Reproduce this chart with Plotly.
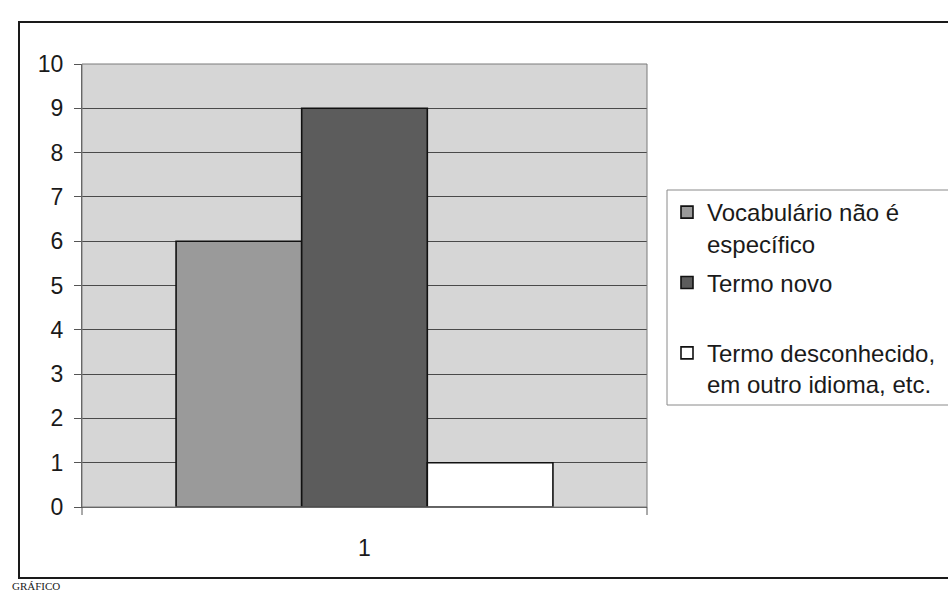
import plotly.graph_objects as go

# Data
categories = ["1"]
series_names = [
    "Vocabulário não é<br>específico",
    "Termo novo<br> ",
    "Termo desconhecido,<br>em outro idioma, etc.",
]
series_values = [[6], [9], [1]]
series_colors = ["#9a9a9a", "#5c5c5c", "#ffffff"]
y_ticks = list(range(0, 11))

W, H = 948, 596
L, R, T, B = 82, 647, 64, 507  # plot area in pixels


def px(x):
    return (x - L) / (R - L)


def py(y):
    return (B - y) / (B - T)


fig = go.Figure()
for i, (name, vals, col) in enumerate(zip(series_names, series_values, series_colors)):
    fig.add_trace(go.Bar(
        x=categories, y=vals, name=name, legendgroup=f"g{i}",
        marker=dict(color=col, line=dict(color="#111111", width=1.6)),
    ))

font_family = "Liberation Sans, Arial, sans-serif"

fig.update_layout(
    width=W, height=H,
    margin=dict(l=L, r=W - R, t=T, b=H - B, autoexpand=False),
    paper_bgcolor="white",
    plot_bgcolor="#d6d6d6",
    barmode="group",
    bargap=0.333,
    bargroupgap=0,
    font=dict(family=font_family, size=23, color="#1a1a1a"),
    showlegend=True,
    legend=dict(
        xref="container", yref="container",
        x=667 / W, y=1 - 190 / H, xanchor="left", yanchor="top",
        bgcolor="rgba(0,0,0,0)", borderwidth=0,
        font=dict(family=font_family, size=24, color="#1a1a1a"),
        valign="top", tracegroupgap=5,
        traceorder="grouped",
    ),
    xaxis=dict(
        type="category", range=[-0.5, 0.5],
        showgrid=False, showline=True, linecolor="#555555", linewidth=1,
        ticks="", tickfont=dict(size=23), ticklabelstandoff=20,
    ),
    yaxis=dict(
        range=[0, 10], tickvals=y_ticks, ticktext=[str(v) for v in y_ticks],
        showgrid=True, gridcolor="#4a4a4a", gridwidth=1,
        showline=True, linecolor="#555555", linewidth=1,
        ticks="outside", ticklen=7, tickcolor="#555555",
        tickfont=dict(size=23), ticklabelstandoff=6,
        zeroline=False,
    ),
    shapes=[
        # plot area border
        dict(type="rect", xref="paper", yref="paper", x0=0, y0=0, x1=1, y1=1,
             line=dict(color="#7a7a7a", width=1), layer="above"),
        # category boundary tick marks below the x axis
        dict(type="line", xref="paper", yref="paper", x0=0, x1=0,
             y0=0, y1=py(515), line=dict(color="#555555", width=1)),
        dict(type="line", xref="paper", yref="paper", x0=1, x1=1,
             y0=0, y1=py(515), line=dict(color="#555555", width=1)),
        # chart frame
        dict(type="rect", xref="paper", yref="paper",
             x0=px(19), x1=px(975), y0=py(578), y1=py(22),
             line=dict(color="#1a1a1a", width=2)),
        # legend box
        dict(type="rect", xref="paper", yref="paper",
             x0=px(667), x1=px(975), y0=py(405), y1=py(190),
             line=dict(color="#8a8a8a", width=1), fillcolor="white",
             layer="below"),
    ],
    annotations=[
        dict(text="GRÁFICO", xref="paper", yref="paper",
             x=px(10), y=py(594), xanchor="left", yanchor="bottom",
             showarrow=False,
             font=dict(family="Liberation Serif, Times New Roman, serif",
                       size=11, color="#1a1a1a")),
    ],
)

fig.write_html("out.html")
